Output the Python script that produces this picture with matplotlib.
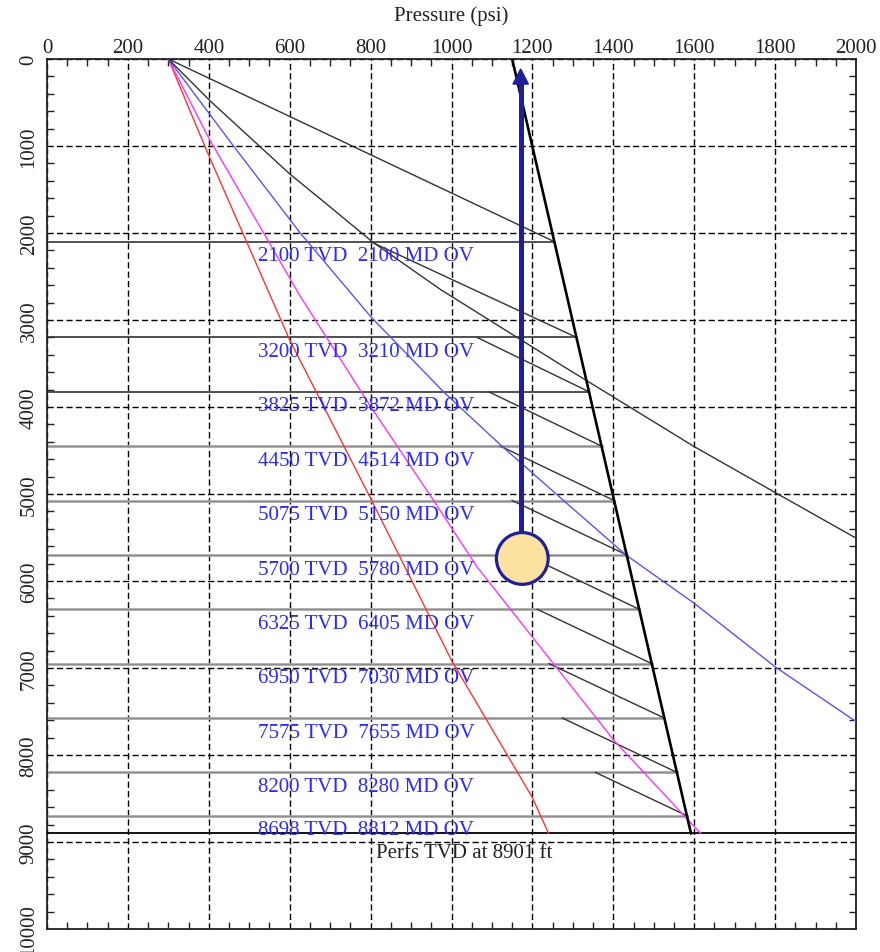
import matplotlib.pyplot as plt
import numpy as np
from matplotlib.patches import Ellipse, Polygon
from matplotlib.ticker import MultipleLocator

plt.rcParams['font.family'] = ['Liberation Serif', 'DejaVu Serif']

# injection (casing) pressure line: psi vs TVD ft
casing_p = [1150, 1592]
casing_d = [0, 8901]

# gradient curves from the 300 psi wellhead pressure
red_p = [300, 400, 600, 800, 1000, 1200, 1240]
red_d = [0, 1110, 3230, 5050, 6912, 8490, 8901]
mag_p = [300, 400, 626, 800, 955, 1063, 1200, 1402, 1575, 1616]
mag_d = [0, 910, 2727, 3994, 5069, 5837, 6644, 7834, 8698, 8901]
blue_p = [300, 461, 626, 800, 980, 1121, 1270, 1431, 1600, 1802, 2000]
blue_d = [0, 1000, 2000, 2960, 3825, 4435, 5046, 5700, 6256, 6993, 7615]
grad_p = [300, 403, 601, 692, 804, 973, 1270, 1600, 1802, 2000]
grad_d = [0, 480, 1325, 1670, 2100, 2650, 3514, 4455, 4988, 5507]

# valves
valve_tvd = [2100, 3200, 3825, 4450, 5075, 5700, 6325, 6950, 7575, 8200, 8698]
valve_md = [2100, 3210, 3872, 4514, 5150, 5780, 6405, 7030, 7655, 8280, 8812]
# tubing pressure at each valve where the next unloading line starts
start_p = [300, 800, 1063, 1092, 1121, 1150, 1183, 1212, 1241, 1274, 1356]
perfs = 8901

navy = '#1f1f9c'
fs = 15

fig = plt.figure(figsize=(8.8, 9.53), dpi=100)
ax = fig.add_axes([47/880, 1 - 930/953, (856 - 47)/880, (930 - 60)/953])

ax.set_xlim(0, 2000)
ax.set_ylim(10000, 0)

# grid
ax.grid(True, which='major', color='black', linestyle=(0, (4.5, 2.3)), lw=1.0, zorder=0)

def casing_at(d):
    return np.interp(d, casing_d, casing_p)

# valve levels
for i, d in enumerate(valve_tvd):
    if i < 3:
        ax.plot([0, casing_at(d)], [d, d], color='#333333', lw=1.2, zorder=2)
    else:
        ax.plot([0, casing_at(d)], [d, d], color='#a8a8a8', lw=2.0, zorder=2)
        ax.plot([0, casing_at(d)], [d, d], color='#888888', lw=0.6, zorder=2)
    ax.text(522, d + 215, f'{d} TVD  {valve_md[i]} MD OV', color='#2a2aff',
            fontsize=fs, va='baseline', ha='left', zorder=5)

# perfs
ax.axhline(perfs, color='black', lw=1.3, zorder=3)
ax.text(813, perfs + 270, f'Perfs TVD at {perfs} ft', color='#222222',
        fontsize=fs, va='baseline', ha='left', zorder=5)

# unloading lines: from tubing pressure at valve i down to casing line at valve i+1
top_d = [0] + valve_tvd[:-1]
for p0, d0, d1 in zip(start_p, top_d, valve_tvd):
    ax.plot([p0, casing_at(d1)], [d0, d1], color='#333333', lw=1.0, zorder=3)

# gradient curves
ax.plot(red_p, red_d, color='#ff3333', lw=1.0, zorder=3)
ax.plot(mag_p, mag_d, color='#ff33ff', lw=1.0, zorder=3)
ax.plot(blue_p, blue_d, color='#5555ff', lw=1.0, zorder=3)
ax.plot(grad_p, grad_d, color='#333333', lw=1.0, zorder=3)

# casing pressure line
ax.plot(casing_p, casing_d, color='black', lw=1.9, zorder=4)

# annotation: circle and arrow
cx, cy = 1175, 5741
ax.add_patch(Ellipse((cx, cy), 128, 595, facecolor='#fce29e', edgecolor=navy,
                     lw=2.3, zorder=6))
ax.plot([1171, 1171], [cy - 300, 270], color=navy, lw=3.6, zorder=6,
        solid_capstyle='butt')
ax.add_patch(Polygon([[1171 - 19, 288], [1171 + 19, 288], [1171, 115]],
                     closed=True, color=navy, zorder=6))

# axes styling
ax.xaxis.tick_top()
ax.xaxis.set_major_locator(MultipleLocator(200))
ax.xaxis.set_minor_locator(MultipleLocator(50))
ax.yaxis.set_major_locator(MultipleLocator(1000))
ax.yaxis.set_minor_locator(MultipleLocator(200))
ax.tick_params(which='both', direction='in', top=True, bottom=True, left=True,
               right=True, labeltop=True, labelbottom=False, colors='#222222')
ax.tick_params(which='major', length=0, labelsize=fs)
ax.tick_params(axis='x', which='major', pad=1.5)
ax.tick_params(axis='y', which='major', pad=6)
ax.tick_params(which='minor', length=5, width=1.0)
for lab in ax.get_yticklabels():
    lab.set_rotation(90)
    lab.set_va('center')
for s in ax.spines.values():
    s.set_linewidth(1.3)
    s.set_color('#222222')

fig.text(451/880, 1 - 21/953, 'Pressure (psi)', fontsize=fs, color='#222222',
         ha='center', va='baseline')

fig.savefig('out.png', dpi=100)
